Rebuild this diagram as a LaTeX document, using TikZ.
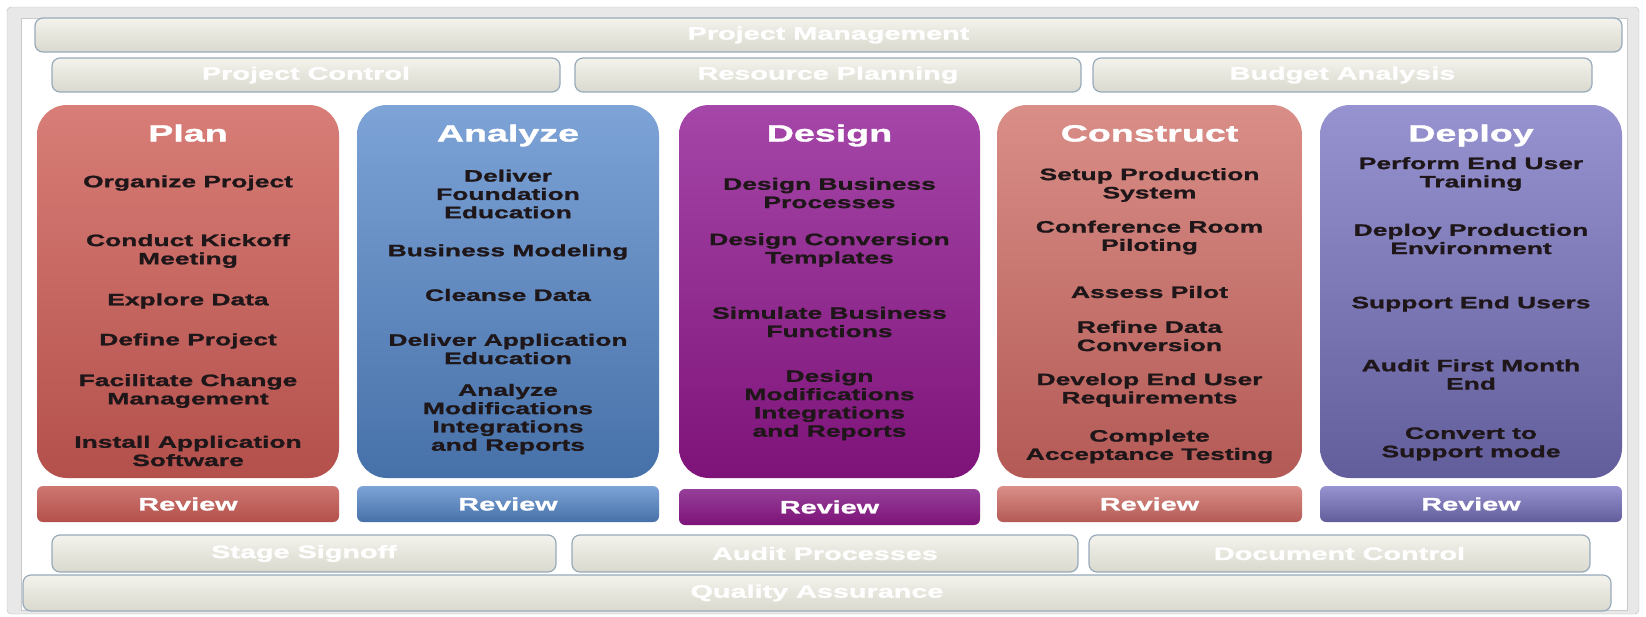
\documentclass[tikz,border=0pt]{standalone}
\usepackage{fontspec}
\setmainfont{Liberation Sans}[FakeStretch=1.6, BoldFeatures={FakeBold=1.3}]
\definecolor{bartop}{HTML}{F3F2EC}
\definecolor{barbot}{HTML}{DAD9CE}
\definecolor{barline}{HTML}{98AABA}
\definecolor{itemc}{HTML}{1E1618}
\definecolor{frameg}{HTML}{E8E8E8}
\definecolor{framel}{HTML}{BDBDBD}
\definecolor{planT}{HTML}{D87D77}
\definecolor{planB}{HTML}{B4504C}
\definecolor{anaT}{HTML}{7DA3D7}
\definecolor{anaB}{HTML}{4671A8}
\definecolor{desT}{HTML}{A546A9}
\definecolor{desB}{HTML}{7E1379}
\definecolor{conT}{HTML}{D98E87}
\definecolor{conB}{HTML}{B45A56}
\definecolor{depT}{HTML}{9693D0}
\definecolor{depB}{HTML}{625E9C}
\tikzset{
  colbox/.style={rounded corners=30pt, draw=none, minimum height=373pt, inner sep=0pt},
  revbox/.style={rounded corners=6pt, draw=none, minimum height=36pt, inner sep=0pt,
    text=white, font=\fontsize{18}{20}\selectfont\bfseries},
  gbar/.style={rounded corners=8pt, draw=barline, line width=1.2pt, top color=bartop,
    bottom color=barbot, inner sep=0pt, text=white, font=\fontsize{18}{20}\selectfont\bfseries},
  ttl/.style={text=white, font=\fontsize{23.5}{26}\selectfont\bfseries, inner sep=0pt, anchor=base},
  item/.style={text=itemc, align=center, font=\fontsize{16.5}{18.3}\selectfont\bfseries, inner sep=0pt}
}
\begin{document}
\begin{tikzpicture}[x=1pt,y=-1pt]
\useasboundingbox (0,0) rectangle (1646,616);
% window frame
\path[fill=frameg, draw=framel, rounded corners=4pt] (7,7) rectangle (1639,614);
\path[fill=white, draw=framel!80] (21,18) rectangle (1627,610);

% top bars
\node[gbar, minimum width=1587pt, minimum height=34pt] (pm) at (828.5,35) {Project Management};
\node[gbar, minimum width=508pt, minimum height=34pt] (pc) at (306,75) {Project Control};
\node[gbar, minimum width=506pt, minimum height=34pt] (rp) at (828,75) {Resource Planning};
\node[gbar, minimum width=499pt, minimum height=34pt] (ba) at (1342.5,75) {Budget Analysis};

% columns
\node[colbox, minimum width=302pt, top color=planT, bottom color=planB] (plan) at (188,291.5) {};
\node[colbox, minimum width=302pt, top color=anaT, bottom color=anaB] (ana) at (508,291.5) {};
\node[colbox, minimum width=301pt, top color=desT, bottom color=desB] (des) at (829.5,291.5) {};
\node[colbox, minimum width=305pt, top color=conT, bottom color=conB] (con) at (1149.5,291.5) {};
\node[colbox, minimum width=302pt, top color=depT, bottom color=depB] (dep) at (1471,291.5) {};

% titles
\node[ttl] (planT) at (188,141.5) {Plan};
\node[ttl] (anaT) at (508,141.5) {Analyze};
\node[ttl] (desT) at (829.5,141.5) {Design};
\node[ttl] (conT) at (1149.5,141.5) {Construct};
\node[ttl] (depT) at (1471,141.5) {Deploy};

% Plan items
\node[item] (p1) at (188,183) {Organize Project};
\node[item] (p2) at (188,251) {Conduct Kickoff\\Meeting};
\node[item] (p3) at (188,301) {Explore Data};
\node[item] (p4) at (188,341) {Define Project};
\node[item] (p5) at (188,391) {Facilitate Change\\Management};
\node[item] (p6) at (188,451) {Install Application\\Software};

% Analyze items
\node[item] (a1) at (508,194) {Deliver\\Foundation\\Education};
\node[item] (a2) at (508,252) {Business Modeling};
\node[item] (a3) at (508,295) {Cleanse Data};
\node[item] (a4) at (508,349) {Deliver Application\\Education};
\node[item] (a5) at (508,419) {Analyze\\Modifications\\Integrations\\and Reports};

% Design items
\node[item] (d1) at (829.5,193) {Design Business\\Processes};
\node[item] (d2) at (829.5,250) {Design Conversion\\Templates};
\node[item] (d3) at (829.5,322) {Simulate Business\\Functions};
\node[item] (d4) at (829.5,405) {Design\\Modifications\\Integrations\\and Reports};

% Construct items
\node[item] (c1) at (1149.5,185) {Setup Production\\System};
\node[item] (c2) at (1149.5,237.5) {Conference Room\\Piloting};
\node[item] (c3) at (1149.5,292) {Assess Pilot};
\node[item] (c4) at (1149.5,336) {Refine Data\\Conversion};
\node[item] (c5) at (1149.5,390) {Develop End User\\Requirements};
\node[item] (c6) at (1149.5,446.5) {Complete\\Acceptance Testing};

% Deploy items
\node[item] (e1) at (1471,174) {Perform End User\\Training};
\node[item] (e2) at (1471,239) {Deploy Production\\Environment};
\node[item] (e3) at (1471,304) {Support End Users};
\node[item] (e4) at (1471,374.5) {Audit First Month\\End};
\node[item] (e5) at (1471,444) {Convert to\\Support mode};

% review bars
\node[revbox, minimum width=302pt, top color=planT!95!black, bottom color=planB] (r1) at (188,504) {Review};
\node[revbox, minimum width=302pt, top color=anaT, bottom color=anaB] (r2) at (508,504) {Review};
\node[revbox, minimum width=301pt, top color=desT!90!black, bottom color=desB] (r3) at (829.5,507) {Review};
\node[revbox, minimum width=305pt, top color=conT, bottom color=conB] (r4) at (1149.5,504) {Review};
\node[revbox, minimum width=302pt, top color=depT, bottom color=depB] (r5) at (1471,504) {Review};

% bottom bars
\node[gbar, minimum width=504pt, minimum height=37pt] (ss) at (304,553.5) {Stage Signoff};
\node[gbar, minimum width=506pt, minimum height=37pt] (ap) at (825,553.5) {Audit Processes};
\node[gbar, minimum width=501pt, minimum height=37pt] (dc) at (1339.5,553.5) {Document Control};
\node[gbar, minimum width=1588pt, minimum height=36pt] (qa) at (817,593) {Quality Assurance};
\end{tikzpicture}
\end{document}
